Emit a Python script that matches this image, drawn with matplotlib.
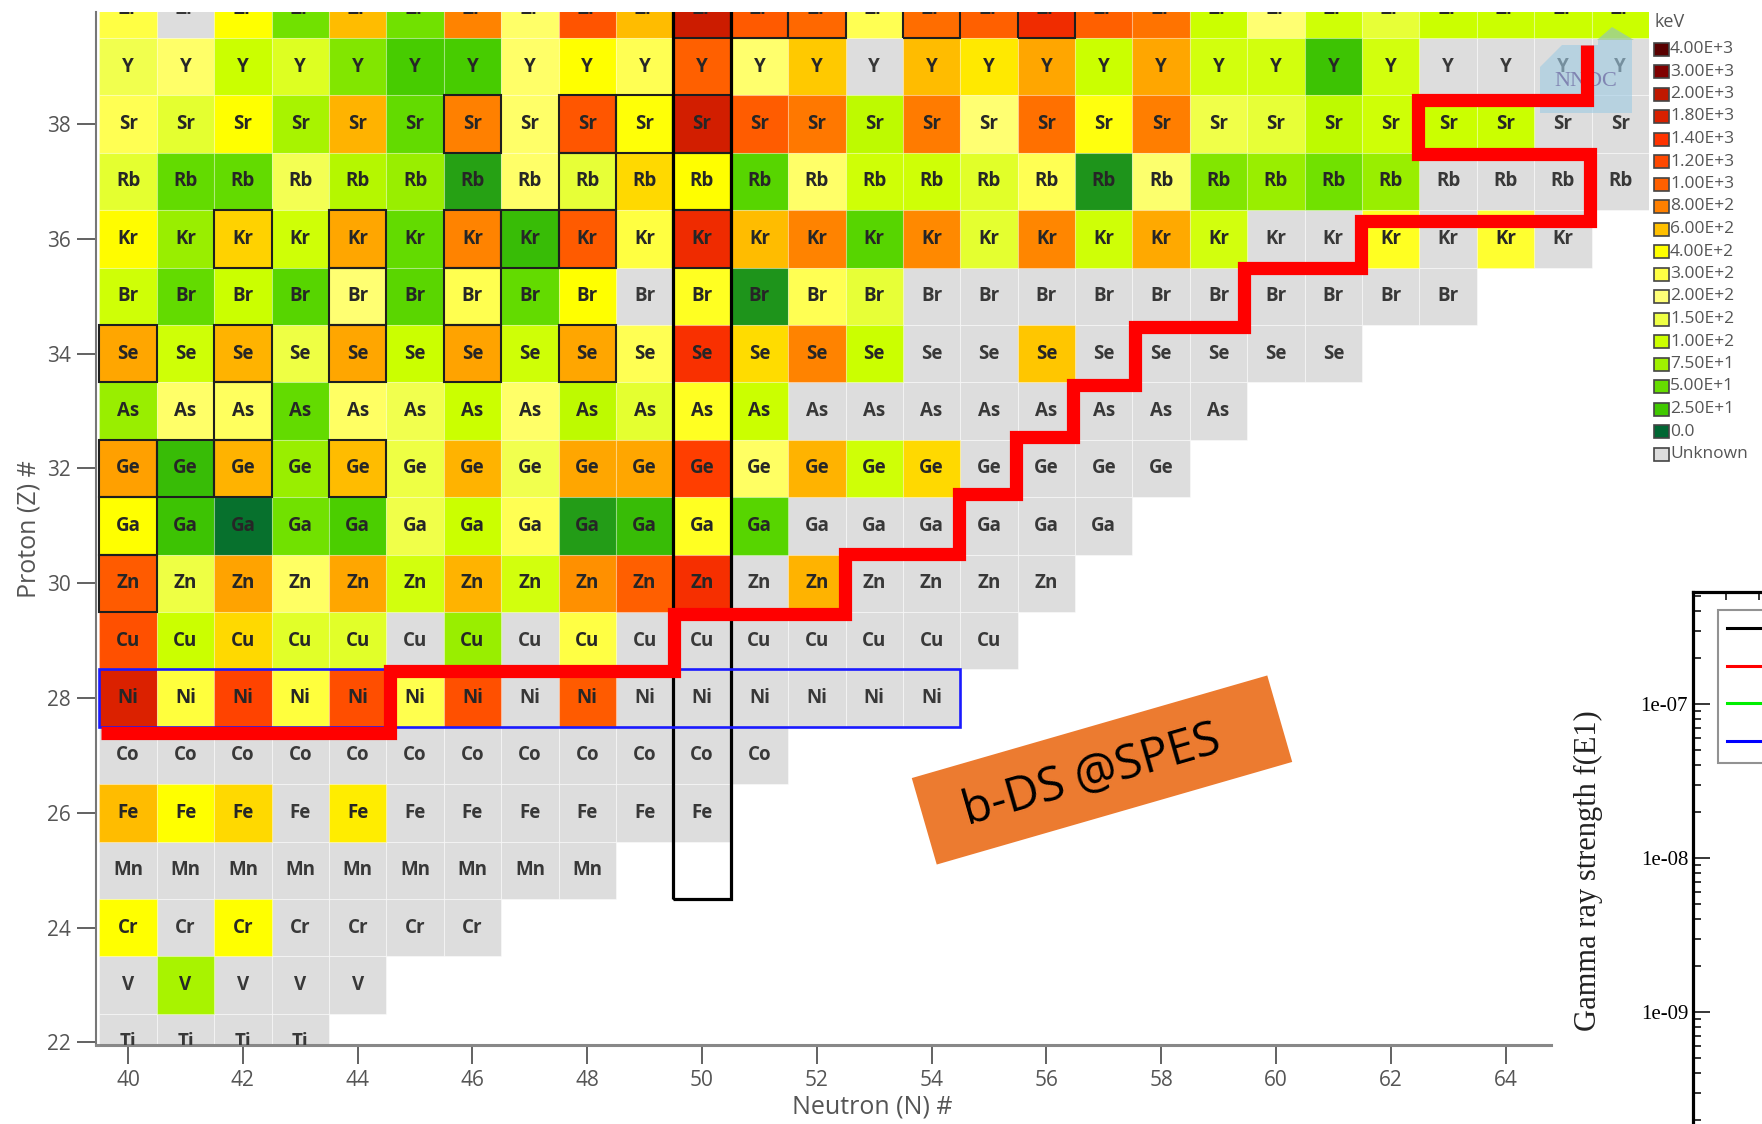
import matplotlib
matplotlib.use('Agg')
import matplotlib.pyplot as plt
import matplotlib.colors as mcolors
import matplotlib.transforms as mtransforms
from matplotlib.patches import Rectangle, Polygon
from matplotlib.collections import PatchCollection
from matplotlib.lines import Line2D
from matplotlib.ticker import FixedLocator, FuncFormatter, LogLocator, NullFormatter, MultipleLocator
import numpy as np

plt.rcParams['font.family'] = ['Open Sans', 'DejaVu Sans']

# colour scale of the chart (keV)
levels = [0, 25, 50, 75, 100, 150, 200, 300, 400, 600, 800, 1000, 1200, 1400, 1800, 2000, 3000, 4000]
level_colors = ['#006633', '#40c800', '#66dd00', '#a0f000', '#ccff00', '#eeff44', '#ffff77', '#ffff44',
                '#ffff00', '#ffc000', '#ff8000', '#ff6000', '#ff4800', '#ff3300', '#d82000', '#c01800',
                '#800000', '#5a0000']
level_labels = ['0.0', '2.50E+1', '5.00E+1', '7.50E+1', '1.00E+2', '1.50E+2', '2.00E+2', '3.00E+2',
                '4.00E+2', '6.00E+2', '8.00E+2', '1.00E+3', '1.20E+3', '1.40E+3', '1.80E+3', '2.00E+3',
                '3.00E+3', '4.00E+3']
unknown_color = '#dddddd'

# first excited state energy (keV), one list per element, starting at N = 40 (None = unknown)
n_first = 40
Zr = [300, None, 400, 55, 610, 55, 790, 230, 1100, 610, 1900, 1050, 950, 270, 920, 1000, 1550, 1000, 880,
      100, 210, 105, 140, 100, 100, 100, 100]
Y = [160, 230, 100, 125, 62, 30, 30, 230, 400, 270, 1000, 220, 570, None, 610, 470, 680, 100, 680, 110,
     110, 24, 110, None, None, None, None]
Sr = [270, 135, 400, 80, 640, 48, 800, 230, 1080, 390, 1850, 1030, 850, 92, 830, 210, 900, 380, 815, 155,
      140, 92, 105, 100, 100, None, None]
Rb = [135, 48, 48, 165, 87, 72, 15, 230, 140, 520, 402, 40, 230, 105, 105, 130, 270, 12, 190, 62, 72, 55,
      72, None, None, None, None]
Kr = [410, 72, 540, 105, 680, 48, 790, 22, 1040, 305, 1565, 610, 790, 40, 770, 135, 780, 105, 670, 110,
      None, None, 350, None, 330, None]
Br = [105, 48, 100, 40, 210, 42, 276, 48, 400, None, 350, 12, 270, 140, None, None, None, None, None,
      None, None, None, None, None]
Se = [680, 105, 640, 150, 680, 100, 690, 105, 680, 270, 1455, 510, 790, 100, None, None, 580, None, None,
      None, None, None]
As = [72, 230, 250, 48, 240, 160, 100, 230, 92, 135, 350, 100, None, None, None, None, None, None, None,
      None]
Ge = [700, 22, 640, 72, 610, 150, 640, 160, 680, 680, 1300, 240, 640, 105, 520, None, None, None, None]
Ga = [400, 24, 3, 55, 32, 155, 100, 270, 14, 22, 350, 40, None, None, None, None, None, None]
Zn = [1040, 150, 690, 240, 680, 110, 640, 110, 750, 1010, 1490, None, 640, None, None, None, None]
Cu = [1130, 100, 520, 130, 130, None, 72, None, 300, None, None, None, None, None, None, None]
Ni = [1770, 310, 1250, 310, 1150, 280, 1130, None, 1040, None, None, None, None, None, None]
Co = [None] * 12
Fe = [610, 400, 520, None, 460, None, None, None, None, None, None]
Mn = [None] * 9
Cr = [400, None, 400, None, None, None, None]
V = [None, 80, None, None, None]
Ti = [None] * 4

rows = {40: ('Zr', Zr), 39: ('Y', Y), 38: ('Sr', Sr), 37: ('Rb', Rb), 36: ('Kr', Kr), 35: ('Br', Br),
        34: ('Se', Se), 33: ('As', As), 32: ('Ge', Ge), 31: ('Ga', Ga), 30: ('Zn', Zn), 29: ('Cu', Cu),
        28: ('Ni', Ni), 27: ('Co', Co), 26: ('Fe', Fe), 25: ('Mn', Mn), 24: ('Cr', Cr), 23: ('V', V),
        22: ('Ti', Ti)}

# stable nuclei (Z, N) -> black frame
stable = [(40, 50), (40, 51), (40, 52), (40, 54), (40, 56), (38, 46), (38, 48), (38, 49), (38, 50),
          (37, 48), (37, 50), (36, 42), (36, 44), (36, 46), (36, 47), (36, 48), (36, 50), (35, 44),
          (35, 46), (34, 40), (34, 42), (34, 44), (34, 46), (34, 48), (33, 42), (32, 40), (32, 41),
          (32, 42), (32, 44), (31, 40), (30, 40)]

# hand drawn red staircase (N, Z)
red_n = [39.53, 44.56, 44.56, 49.51, 49.51, 52.49, 52.49, 54.48, 54.48, 55.47, 55.47, 56.47, 56.47,
         57.55, 57.55, 59.45, 59.45, 61.48, 61.48, 65.47, 65.47, 62.47, 62.47, 65.42, 65.42]
red_z = [27.39, 27.39, 28.47, 28.47, 29.46, 29.46, 30.51, 30.51, 31.55, 31.55, 32.55, 32.55, 33.45,
         33.45, 34.46, 34.46, 35.5, 35.5, 36.31, 36.31, 37.48, 37.48, 38.42, 38.42, 39.38]

W, H = 1762, 1124
fig = plt.figure(figsize=(W / 100, H / 100), dpi=100)
fig.patch.set_facecolor('white')

# pixel (top-left origin) -> figure
pix = mtransforms.Affine2D().scale(1 / W, -1 / H).translate(0, 1) + fig.transFigure

ax_l, ax_r, ax_t, ax_b = 96, 1649, 11.5, 1044.7
ax = fig.add_axes([ax_l / W, 1 - ax_b / H, (ax_r - ax_l) / W, (ax_b - ax_t) / H])
ax.set_xlim(39.44, 66.5)
ax.set_ylim(21.96, 39.96)

pos = np.linspace(0, 1, len(levels))
cmap = mcolors.LinearSegmentedColormap.from_list('nndc', list(zip(pos, level_colors)), N=1024)
norm = mcolors.FuncNorm((lambda x: np.interp(x, levels, pos), lambda y: np.interp(y, pos, levels)),
                        vmin=0, vmax=4000)

known, known_v, unknown = [], [], []
for z, (sym, vals) in rows.items():
    for i, v in enumerate(vals):
        n = n_first + i
        r = Rectangle((n - 0.5, z - 0.5), 1, 1)
        if v is None:
            unknown.append(r)
        else:
            known.append(r)
            known_v.append(v)
        ax.text(n, z, sym, ha='center', va='center', fontsize=13.5, fontweight='bold',
                color='#262626' if v is not None else '#383838', clip_on=True, zorder=4)

pc_u = PatchCollection(unknown, facecolor=unknown_color, edgecolor=(1, 1, 1, 0.45), linewidth=0.8, zorder=1)
pc_k = PatchCollection(known, cmap=cmap, norm=norm, edgecolor=(1, 1, 1, 0.25), linewidth=0.8, zorder=1)
pc_k.set_array(np.array(known_v, dtype=float))
ax.add_collection(pc_u)
ax.add_collection(pc_k)

for z, n in stable:
    ax.add_patch(Rectangle((n - 0.5, z - 0.5), 1, 1, fill=False, edgecolor='#1e1e1e', linewidth=1.5, zorder=3))

# N = 50 shell closure box and Ni chain box
ax.add_patch(Rectangle((49.5, 24.5), 1, 17, fill=False, edgecolor='black', linewidth=2.3, zorder=5))
ax.add_patch(Rectangle((39.5, 27.5), 15, 1, fill=False, edgecolor='#1a1aff', linewidth=1.9, zorder=5))

ax.plot(red_n, red_z, color='#ff0000', linewidth=9.5, solid_joinstyle='miter', solid_capstyle='butt', zorder=7)

# NNDC logo
ax.add_patch(Polygon([(1540, 113), (1540, 67), (1562, 45), (1598, 45), (1598, 40), (1632, 40), (1632, 113)],
                     closed=True, transform=pix, facecolor='#9fcbe3', alpha=0.6, edgecolor='none', zorder=6))
ax.add_patch(Polygon([(1597, 40), (1612, 27), (1634, 40)], closed=True, transform=pix,
                     facecolor='#9ccf9a', alpha=0.8, edgecolor='none', zorder=6))
ax.text(1586, 82, 'NNDC', transform=pix, ha='center', va='center', fontsize=16, family='Liberation Serif',
        color='#7777aa', alpha=0.85, zorder=6)

# orange label
ax.add_patch(Rectangle((1102 - 185, 770 - 45), 370, 90, angle=-16.1, rotation_point='center', transform=pix,
                       facecolor='#ec7b30', edgecolor='none', zorder=6, clip_on=False))
ax.text(1092, 776, 'b-DS @SPES', transform=pix, rotation=16.1, rotation_mode='anchor', ha='center',
        va='center', fontsize=34, color='black', zorder=7, clip_on=False)

# axes styling
for s in ['top', 'right']:
    ax.spines[s].set_visible(False)
ax.spines['bottom'].set_bounds(39.44, 64.8)
ax.spines['bottom'].set_linewidth(2.2)
ax.spines['bottom'].set_color('#888888')
ax.spines['left'].set_linewidth(1.5)
ax.spines['left'].set_color('#777777')
ax.set_xticks(range(40, 65, 2))
ax.set_yticks(range(22, 39, 2))
ax.tick_params(length=14, width=1.3, color='#555555', labelsize=15, labelcolor='#555555', pad=4)
fig.text(872 / W, 1 - 1107 / H, 'Neutron (N) #', ha='center', va='center', fontsize=18, color='#555555')
fig.text(29 / W, 1 - 529 / H, 'Proton (Z) #', ha='center', va='center', rotation=90, fontsize=18,
         color='#555555')

# colour legend
fig.text(1655 / W, 1 - 22 / H, 'keV', ha='left', va='center', fontsize=13, color='#555555')
leg_colors = level_colors[::-1] + [unknown_color]
leg_labels = level_labels[::-1] + ['Unknown']
for k, (c, lab) in enumerate(zip(leg_colors, leg_labels)):
    yc = 49 + k * 22.5
    fig.patches.append(Rectangle((1654, yc - 6.5), 15, 13, transform=pix, facecolor=c, edgecolor='#444444',
                                 linewidth=1.2, figure=fig))
    fig.text(1670 / W, 1 - yc / H, lab, ha='left', va='center', fontsize=12.5, color='#555555')

# gamma-ray strength panel (partly outside the figure)
g_l, g_t, g_w, g_h = 1693, 592, 400, 900
gax = fig.add_axes([g_l / W, 1 - (g_t + g_h) / H, g_w / W, g_h / H])
gax.set_facecolor('white')
gax.set_yscale('log')
gax.set_ylim(10 ** -12.117, 10 ** -6.2727)
gax.set_xlim(0, 12.12)
gax.yaxis.set_major_locator(FixedLocator([1e-7, 1e-8, 1e-9]))
gax.yaxis.set_major_formatter(FuncFormatter(lambda v, p: f'{v:.0e}'))
gax.yaxis.set_minor_locator(LogLocator(base=10, subs=np.arange(2, 10)))
gax.yaxis.set_minor_formatter(NullFormatter())
gax.xaxis.set_major_locator(MultipleLocator(5))
gax.xaxis.set_minor_locator(MultipleLocator(1))
gax.tick_params(which='both', direction='in', top=True, right=True, labelbottom=False, width=1.1,
                color='black')
gax.tick_params(which='major', length=12)
gax.tick_params(which='minor', length=6)
for lab in gax.get_yticklabels():
    lab.set_family('Liberation Serif')
    lab.set_fontsize(15)
for s in gax.spines.values():
    s.set_linewidth(2.3)
handles = [Line2D([], [], color=c, linewidth=2.2) for c in ['black', '#ff0000', '#00ee00', '#0000ff']]
lg = gax.legend(handles, ['', '', '', ''], loc='upper left', bbox_to_anchor=(0.0625, 0.98),
                borderaxespad=0, fancybox=False, edgecolor='#777777', fontsize=15, handlelength=4,
                labelspacing=0.8, borderpad=0.45)
lg.get_frame().set_linewidth(1.5)
fig.text(1588 / W, 1 - 871 / H, 'Gamma ray strength f(E1)', ha='center', va='center', rotation=90,
         fontsize=22, family='Liberation Serif', color='#222222')

fig.savefig('out.png', dpi=100)
